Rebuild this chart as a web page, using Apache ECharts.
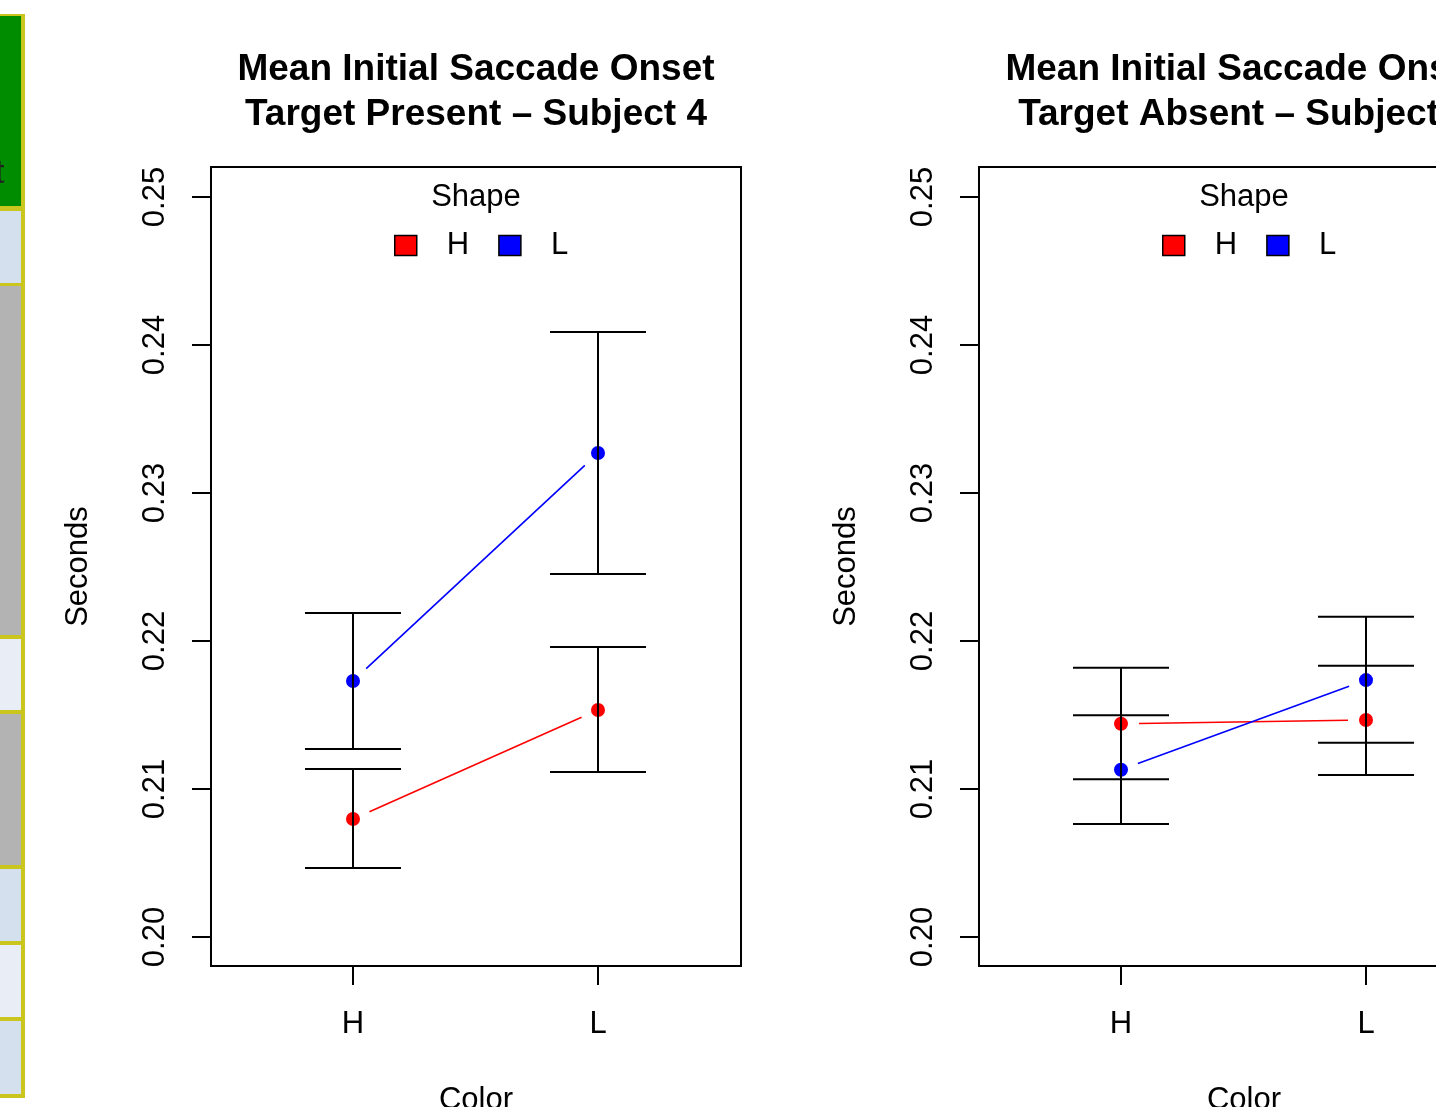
<!DOCTYPE html>
<html>
<head>
<meta charset="utf-8">
<script src="https://cdn.jsdelivr.net/npm/echarts@6/dist/echarts.min.js"></script>
<style>
html, body { margin: 0; padding: 0; background: #fff; }
#chart { width: 1436px; height: 1107px; }
</style>
</head>
<body>
<div id="chart"></div>
<script>
// x categories (Color) and groups (Shape)
const colorLevels = ['H', 'L'];
const shapeLevels = ['H', 'L'];
const yTicks = [0.20, 0.21, 0.22, 0.23, 0.24, 0.25];

// Target Present - Subject 4 (mean, lower, upper per Color level)
const presentMeanH = [0.20797, 0.21534];
const presentLowH = [0.20466, 0.21115];
const presentHighH = [0.21135, 0.21959];
const presentMeanL = [0.21730, 0.23270];
const presentLowL = [0.21270, 0.22453];
const presentHighL = [0.22189, 0.24088];

// Target Absent - Subject 4
const absentMeanH = [0.21441, 0.21466];
const absentLowH = [0.21066, 0.21095];
const absentHighH = [0.21820, 0.21833];
const absentMeanL = [0.21130, 0.21736];
const absentLowL = [0.20764, 0.21313];
const absentHighL = [0.21498, 0.22164];

const shapeColors = { H: '#ff0000', L: '#0000ff' };
const font = "'Liberation Sans', Arial, Helvetica, sans-serif";

// axis ranges (R adds 4% on each side)
const yMin = 0.198041, yMax = 0.252027;
const xMin = 0.4204, xMax = 2.5837;

const chart = echarts.init(document.getElementById('chart'));

// line between two means, with a gap round each point (type = "b")
function gapLine(color) {
  return function (params, api) {
    const p1 = api.coord([api.value(0), api.value(1)]);
    const p2 = api.coord([api.value(2), api.value(3)]);
    const dx = p2[0] - p1[0], dy = p2[1] - p1[1];
    const len = Math.sqrt(dx * dx + dy * dy);
    const g = 18;
    const ux = dx / len, uy = dy / len;
    return {
      type: 'line',
      shape: { x1: p1[0] + ux * g, y1: p1[1] + uy * g, x2: p2[0] - ux * g, y2: p2[1] - uy * g },
      style: { stroke: color, lineWidth: 1.6 }
    };
  };
}

function errBar(params, api) {
  const x = api.value(0);
  const lo = api.coord([x, api.value(1)]);
  const hi = api.coord([x, api.value(2)]);
  const w = 48;
  const st = { stroke: '#000', lineWidth: 2 };
  return {
    type: 'group',
    children: [
      { type: 'line', shape: { x1: lo[0], y1: lo[1], x2: hi[0], y2: hi[1] }, style: st },
      { type: 'line', shape: { x1: lo[0] - w, y1: lo[1], x2: lo[0] + w, y2: lo[1] }, style: st },
      { type: 'line', shape: { x1: hi[0] - w, y1: hi[1], x2: hi[0] + w, y2: hi[1] }, style: st }
    ]
  };
}

function panelSeries(idx, shape, mean, low, high) {
  const color = shapeColors[shape];
  return [
    {
      type: 'custom', xAxisIndex: idx, yAxisIndex: idx,
      renderItem: gapLine(color),
      encode: { x: [0, 2], y: [1, 3] },
      data: [[1, mean[0], 2, mean[1]]],
      z: 2, silent: true
    },
    {
      type: 'scatter', name: shape, xAxisIndex: idx, yAxisIndex: idx,
      symbol: 'circle', symbolSize: 14,
      itemStyle: { color: color, opacity: 1 },
      data: colorLevels.map((c, i) => [i + 1, mean[i]]),
      z: 3
    },
    {
      type: 'custom', xAxisIndex: idx, yAxisIndex: idx,
      renderItem: errBar,
      encode: { x: 0, y: [1, 2] },
      data: colorLevels.map((c, i) => [i + 1, low[i], high[i]]),
      z: 4, silent: true
    }
  ];
}

function xAxisFor(idx) {
  return {
    gridIndex: idx, type: 'value', min: xMin, max: xMax,
    splitLine: { show: false },
    axisLine: { show: false },
    axisTick: { show: true, length: 19, customValues: [1, 2], lineStyle: { color: '#000', width: 2 } },
    axisLabel: {
      customValues: [1, 2], formatter: v => colorLevels[Math.round(v) - 1],
      fontSize: 31, color: '#000', fontFamily: font, margin: 43
    },
    name: 'Color', nameLocation: 'middle', nameGap: 119,
    nameTextStyle: { fontSize: 31, color: '#000', fontFamily: font }
  };
}

function yAxisFor(idx) {
  return {
    gridIndex: idx, type: 'value', min: yMin, max: yMax,
    splitLine: { show: false },
    axisLine: { show: false },
    axisTick: { show: true, length: 19, customValues: yTicks, lineStyle: { color: '#000', width: 2 } },
    axisLabel: {
      customValues: yTicks, rotate: 90, formatter: v => v.toFixed(2),
      fontSize: 31, color: '#000', fontFamily: font, margin: 40
    },
    name: 'Seconds', nameLocation: 'middle', nameGap: 117, nameRotate: 90,
    nameTextStyle: { fontSize: 31, color: '#000', fontFamily: font }
  };
}

function legendFor(left) {
  return {
    left: left, top: 230, orient: 'horizontal', padding: 0,
    icon: 'rect', itemWidth: 22, itemHeight: 20, itemGap: 29,
    data: shapeLevels.map(s => ({ name: s, itemStyle: { borderColor: '#000', borderWidth: 1.5 } })),
    textStyle: { fontSize: 31, color: '#000', fontFamily: font, padding: [0, 0, 0, 25] },
    selectedMode: false
  };
}

// strip of a neighbouring table at the left edge
const stripCells = [
  [16, 206, '#008c00'], [211, 283, '#d5e0ee'], [286, 635, '#b3b3b3'], [639, 710, '#e9eef6'],
  [714, 865, '#b3b3b3'], [869, 941, '#d5e0ee'], [945, 1017, '#e9eef6'], [1021, 1094, '#d5e0ee']
];
const stripGraphics = [
  { type: 'rect', shape: { x: 0, y: 14, width: 25, height: 1084 }, style: { fill: '#cbc61e' } }
].concat(stripCells.map(c => ({
  type: 'rect', shape: { x: 0, y: c[0], width: 21, height: c[1] - c[0] }, style: { fill: c[2] }
}))).concat([
  { type: 'text', x: -5, y: 174, z: 10, style: { text: 't', fontSize: 34, fontFamily: font, fill: '#222', verticalAlign: 'middle' } }
]);

const gridBase = {
  top: 167, width: 530, height: 799, show: true, borderColor: '#000', borderWidth: 2,
  backgroundColor: 'transparent', outerBoundsMode: 'none', containLabel: false
};

const option = {
  backgroundColor: '#fff',
  animation: false,
  title: [
    {
      text: 'Mean Initial Saccade Onset\nTarget Present \u2013 Subject 4',
      left: 476, top: 47, textAlign: 'center', padding: 0,
      textStyle: { fontSize: 37, fontWeight: 'bold', color: '#000', fontFamily: font, lineHeight: 45 }
    },
    {
      text: 'Mean Initial Saccade Onset\nTarget Absent \u2013 Subject 4',
      left: 1244, top: 47, textAlign: 'center', padding: 0,
      textStyle: { fontSize: 37, fontWeight: 'bold', color: '#000', fontFamily: font, lineHeight: 45 }
    },
    {
      text: 'Shape', left: 476, top: 182, textAlign: 'center', padding: 0,
      textStyle: { fontSize: 31, fontWeight: 'normal', color: '#000', fontFamily: font }
    },
    {
      text: 'Shape', left: 1244, top: 182, textAlign: 'center', padding: 0,
      textStyle: { fontSize: 31, fontWeight: 'normal', color: '#000', fontFamily: font }
    }
  ],
  legend: [legendFor(394), legendFor(1162)],
  grid: [
    Object.assign({ left: 211 }, gridBase),
    Object.assign({ left: 979 }, gridBase)
  ],
  xAxis: [xAxisFor(0), xAxisFor(1)],
  yAxis: [yAxisFor(0), yAxisFor(1)],
  graphic: stripGraphics,
  series: [].concat(
    panelSeries(0, 'H', presentMeanH, presentLowH, presentHighH),
    panelSeries(0, 'L', presentMeanL, presentLowL, presentHighL),
    panelSeries(1, 'H', absentMeanH, absentLowH, absentHighH),
    panelSeries(1, 'L', absentMeanL, absentLowL, absentHighL)
  )
};

chart.setOption(option);
</script>
</body>
</html>
